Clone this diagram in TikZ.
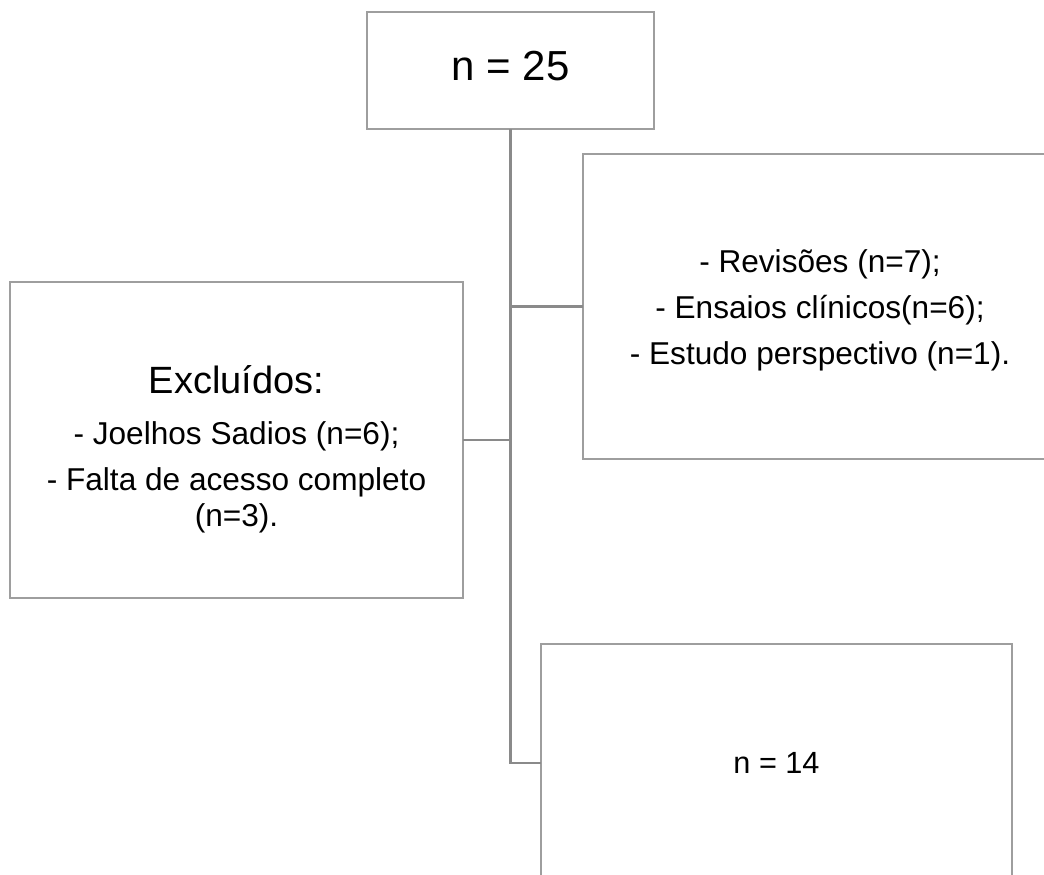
\documentclass[tikz,border=0pt]{standalone}
\usepackage{fontspec}
\setmainfont{Liberation Sans}
\usepackage{tikz}
\usetikzlibrary{positioning}
\definecolor{cinza}{RGB}{158,158,158}
\definecolor{cinzaescuro}{RGB}{138,138,138}

\begin{document}
\begin{tikzpicture}[x=0.75pt,y=-0.75pt]
	\tikzstyle{caixa}=[rectangle,draw=cinza,line width=1.5pt,outer sep=0pt,inner sep=0pt,align=center,fill=white,font=\fontsize{23.7pt}{34.5pt}\selectfont]
	\tikzstyle{linha}=[draw=cinzaescuro,line width=1.7pt]
		\clip (0,0) rectangle (1044,874);
		\fill[white] (0,0) rectangle (1044,874);
		\node[caixa, minimum width=215.25pt, minimum height=87.75pt, text depth=7.5pt, font=\fontsize{31.5pt}{36pt}\selectfont] (t1) at (510.5,70.5) {n = 25};
		\node[caixa, minimum width=355.5pt, minimum height=228.75pt] (e1) [below right=18.75pt and -53.25pt of t1] {\rule{0pt}{23pt}- Revisões (n=7);\\- Ensaios clínicos(n=6);\\- Estudo perspectivo (n=1).};
		\node[caixa, minimum width=339.75pt, minimum height=237pt] (x1) [below left=114.75pt and -72pt of t1] {{\fontsize{28.5pt}{34pt}\selectfont\rule{0pt}{35pt}Excluídos:}\\[3.75pt]- Joelhos Sadios (n=6);\\- Falta de acesso completo\\[-7.5pt](n=3).};
		\node[caixa, minimum width=353.25pt, minimum height=178.5pt, font=\fontsize{23pt}{30pt}\selectfont] (f1) [below right=34.5pt and 58.5pt of x1] {n = 14};
			\draw[linha] (t1.south) |- (f1.west);
			\draw[linha] (t1.south |- e1.west) -- (e1.west);
			\draw[linha] (t1.south |- x1.east) -- (x1.east);
\end{tikzpicture}
\end{document}
